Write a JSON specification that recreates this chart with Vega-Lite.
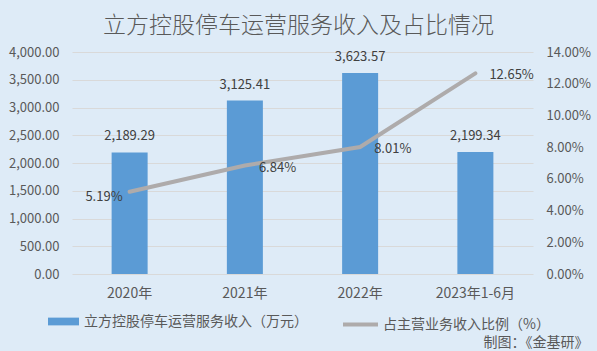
{
  "$schema": "https://vega.github.io/schema/vega-lite/v6.json",
  "width": 461,
  "height": 222,
  "autosize": {"type": "none"},
  "padding": {"left": 72, "top": 52, "right": 64, "bottom": 77},
  "background": "#deebf7",
  "title": {
    "text": "立方控股停车运营服务收入及占比情况",
    "fontSize": 23,
    "fontWeight": 300,
    "color": "#595959",
    "anchor": "middle",
    "dx": -4,
    "offset": 8
  },
  "config": {
    "view": {"stroke": null},
    "font": "Noto Sans CJK SC"
  },
  "data": {
    "values": [
      {"year": "2020年", "revenue": 2189.29, "ratio": 0.0519},
      {"year": "2021年", "revenue": 3125.41, "ratio": 0.0684},
      {"year": "2022年", "revenue": 3623.57, "ratio": 0.0801},
      {"year": "2023年1-6月", "revenue": 2199.34, "ratio": 0.1265}
    ]
  },
  "encoding": {
    "x": {
      "field": "year",
      "type": "ordinal",
      "sort": null,
      "scale": {"paddingInner": 0, "paddingOuter": 0},
      "axis": {
        "title": "制图：《金基研》",
        "titleX": 516,
        "titleY": 68,
        "titleAlign": "right",
        "titleAnchor": null,
        "titleBaseline": "middle",
        "titleFontSize": 14,
        "titleFontWeight": "normal",
        "titleColor": "#595959",
        "labelAngle": 0,
        "labelFontSize": 14,
        "labelColor": "#595959",
        "labelPadding": 12,
        "ticks": false,
        "domain": false
      }
    }
  },
  "layer": [
    {
      "encoding": {
        "y": {
          "field": "revenue",
          "type": "quantitative",
          "scale": {"domain": [0, 4000], "nice": false},
          "axis": {
            "title": null,
            "values": [0, 500, 1000, 1500, 2000, 2500, 3000, 3500, 4000],
            "format": ",.2f",
            "labelFontSize": 13,
            "labelColor": "#595959",
            "labelPadding": 13,
            "ticks": false,
            "domain": false,
            "grid": true,
            "gridColor": "#d9d9d9",
            "gridWidth": 1
          }
        }
      },
      "layer": [
        {
          "mark": {"type": "bar", "size": 36},
          "encoding": {
            "fill": {
              "datum": "立方控股停车运营服务收入（万元）",
              "type": "nominal",
              "scale": {"range": ["#5b9bd5"]},
              "legend": {
                "title": null,
                "orient": "none",
                "legendX": -24,
                "legendY": 254,
                "symbolType": "M-1,-0.25H1V0.25H-1Z",
                "symbolSize": 961,
                "symbolStrokeWidth": 0,
                "labelFontSize": 14,
                "labelColor": "#595959",
                "labelOffset": 5,
                "labelLimit": 400
              }
            }
          }
        },
        {
          "mark": {"type": "text", "baseline": "bottom", "dy": -9, "fontSize": 13, "color": "#404040"},
          "encoding": {
            "text": {"field": "revenue", "type": "quantitative", "format": ",.2f"}
          }
        }
      ]
    },
    {
      "encoding": {
        "y": {
          "field": "ratio",
          "type": "quantitative",
          "scale": {"domain": [0, 0.14], "nice": false},
          "axis": {
            "orient": "right",
            "title": null,
            "values": [0, 0.02, 0.04, 0.06, 0.08, 0.1, 0.12, 0.14],
            "format": ".2%",
            "labelFontSize": 13,
            "labelColor": "#595959",
            "labelPadding": 13,
            "ticks": false,
            "domain": false,
            "grid": false
          }
        }
      },
      "layer": [
        {
          "mark": {"type": "line", "strokeWidth": 4, "strokeCap": "round"},
          "encoding": {
            "stroke": {
              "datum": "占主营业务收入比例（%）",
              "type": "nominal",
              "scale": {"range": ["#aeabab"]},
              "legend": {
                "title": null,
                "orient": "none",
                "legendX": 269,
                "legendY": 253,
                "symbolType": "stroke",
                "symbolSize": 1225,
                "symbolStrokeWidth": 4,
                "labelFontSize": 14,
                "labelColor": "#595959",
                "labelOffset": 3,
                "labelLimit": 400
              }
            }
          }
        },
        {
          "transform": [{"filter": "datum.year === '2020年'"}],
          "mark": {"type": "text", "align": "right", "baseline": "middle", "dx": -7, "dy": 5, "fontSize": 13, "color": "#404040"},
          "encoding": {
            "text": {"field": "ratio", "type": "quantitative", "format": ".2%"}
          }
        },
        {
          "transform": [{"filter": "datum.year !== '2020年'"}],
          "mark": {"type": "text", "align": "left", "baseline": "middle", "dx": 14, "dy": 2, "fontSize": 13, "color": "#404040"},
          "encoding": {
            "text": {"field": "ratio", "type": "quantitative", "format": ".2%"}
          }
        }
      ]
    }
  ],
  "resolve": {"scale": {"y": "independent"}}
}
